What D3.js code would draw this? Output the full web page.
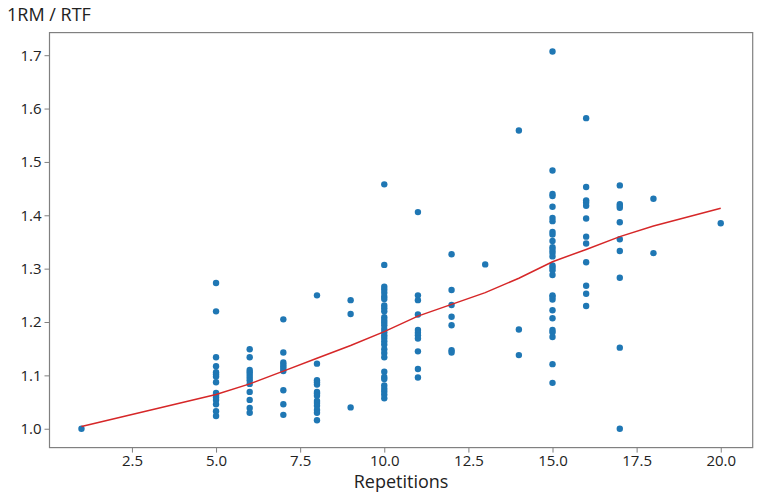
<!DOCTYPE html>
<html>
<head>
<meta charset="utf-8">
<script src="https://cdn.jsdelivr.net/npm/d3@7"></script>
<style>
  html, body { margin: 0; padding: 0; background: #fff; }
  svg { display: block; }
</style>
</head>
<body>
<svg id="chart" width="761" height="498"></svg>
<script>
// Scatter data: repetitions (x) and 1RM/RTF ratios (y), grouped by repetition count
const repGroups = [1, 5, 6, 7, 8, 9, 10, 11, 12, 13, 14, 15, 16, 17, 18, 20];
const ratioValues = [
  [1.000],
  [1.273, 1.220, 1.134, 1.117, 1.106, 1.102, 1.098, 1.087, 1.067, 1.063, 1.059, 1.054, 1.046, 1.033, 1.024],
  [1.149, 1.134, 1.110, 1.106, 1.101, 1.096, 1.091, 1.084, 1.069, 1.054, 1.039, 1.030],
  [1.205, 1.143, 1.124, 1.120, 1.116, 1.112, 1.108, 1.072, 1.046, 1.026],
  [1.250, 1.122, 1.091, 1.087, 1.083, 1.069, 1.066, 1.062, 1.052, 1.048, 1.043, 1.035, 1.030, 1.016],
  [1.241, 1.215, 1.040],
  [1.458, 1.307, 1.266, 1.261, 1.255, 1.248, 1.243, 1.231, 1.226, 1.220, 1.209, 1.204, 1.199, 1.194, 1.187, 1.181, 1.175, 1.170, 1.164, 1.158, 1.149, 1.142, 1.134, 1.107, 1.097, 1.093, 1.081, 1.075, 1.070, 1.064, 1.057],
  [1.406, 1.250, 1.241, 1.214, 1.185, 1.180, 1.175, 1.169, 1.145, 1.112, 1.096],
  [1.327, 1.260, 1.232, 1.210, 1.194, 1.147, 1.143],
  [1.308],
  [1.559, 1.186, 1.138],
  [1.707, 1.484, 1.440, 1.436, 1.416, 1.395, 1.389, 1.369, 1.364, 1.352, 1.340, 1.335, 1.330, 1.323, 1.306, 1.302, 1.297, 1.288, 1.250, 1.247, 1.242, 1.222, 1.207, 1.185, 1.181, 1.172, 1.121, 1.086],
  [1.582, 1.453, 1.428, 1.424, 1.418, 1.394, 1.360, 1.347, 1.312, 1.268, 1.253, 1.230],
  [1.456, 1.421, 1.418, 1.414, 1.387, 1.355, 1.333, 1.283, 1.152, 1.000],
  [1.431, 1.329],
  [1.385]
];

// Fitted trend line
const fitX = [1, 5, 6, 7, 8, 9, 10, 11, 12, 13, 14, 15, 16, 17, 18, 20];
const fitY = [1.004, 1.064, 1.084, 1.108, 1.132, 1.156, 1.182, 1.211, 1.233, 1.255, 1.282, 1.313, 1.336, 1.360, 1.380, 1.413];

// Tick labels
const xTicks = [2.5, 5.0, 7.5, 10.0, 12.5, 15.0, 17.5, 20.0];
const yTicks = [1.0, 1.1, 1.2, 1.3, 1.4, 1.5, 1.6, 1.7];

const points = [];
repGroups.forEach((r, i) => ratioValues[i].forEach(v => points.push({x: r, y: v})));
const fit = fitX.map((x, i) => ({x: x, y: fitY[i]}));

const margin = {left: 49.5, right: 761 - 752.7, top: 32.6, bottom: 498 - 447.6};
const W = 761, H = 498;
const svg = d3.select("#chart");

const xMin = 1, xMax = 20, yMin = 1.0, yMax = 1.707;
const xPad = (xMax - xMin) * 0.05, yPad = (yMax - yMin) * 0.05;
const x = d3.scaleLinear().domain([xMin - xPad, xMax + xPad]).range([margin.left, W - margin.right]);
const y = d3.scaleLinear().domain([yMin - yPad, yMax + yPad]).range([H - margin.bottom, margin.top]);

const font = "'Open Sans', sans-serif";
const axisColor = "#808080";

// Axes
const xAxis = svg.append("g")
  .attr("transform", `translate(0,${H - margin.bottom})`)
  .call(d3.axisBottom(x).tickValues(xTicks).tickFormat(d3.format(".1f")).tickSize(5).tickPadding(3));
const yAxis = svg.append("g")
  .attr("transform", `translate(${margin.left},0)`)
  .call(d3.axisLeft(y).tickValues(yTicks).tickFormat(d3.format(".1f")).tickSize(5).tickPadding(3));

[xAxis, yAxis].forEach(g => {
  g.select(".domain").remove();
  g.selectAll(".tick line").attr("stroke", axisColor).attr("stroke-width", 1);
  g.selectAll(".tick text").attr("fill", "#222").style("font-family", font).style("font-size", "15px");
});

// Frame
svg.append("rect")
  .attr("x", x.range()[0]).attr("y", y.range()[1])
  .attr("width", x.range()[1] - x.range()[0])
  .attr("height", y.range()[0] - y.range()[1])
  .attr("fill", "none").attr("stroke", axisColor).attr("stroke-width", 1.2);

// Points
svg.append("g").selectAll("circle").data(points).join("circle")
  .attr("cx", d => x(d.x)).attr("cy", d => y(d.y)).attr("r", 3.2)
  .attr("fill", "#1f77b4");

// Fit line
svg.append("path").datum(fit)
  .attr("d", d3.line().x(d => x(d.x)).y(d => y(d.y)))
  .attr("fill", "none").attr("stroke", "#d62728").attr("stroke-width", 1.5);

// Labels
svg.append("text").attr("x", 7).attr("y", 21)
  .style("font-family", font).style("font-size", "18px").attr("fill", "#222")
  .text("1RM / RTF");
svg.append("text").attr("x", (x.range()[0] + x.range()[1]) / 2).attr("y", 488)
  .attr("text-anchor", "middle")
  .style("font-family", font).style("font-size", "18px").attr("fill", "#222")
  .text("Repetitions");
</script>
</body>
</html>
